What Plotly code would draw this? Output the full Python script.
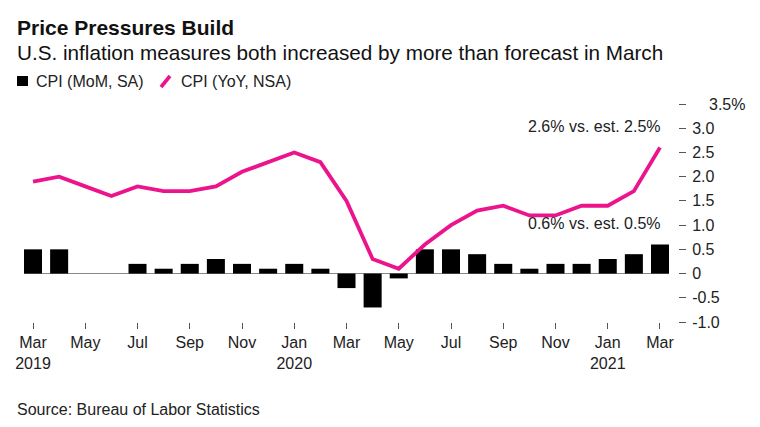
import plotly.graph_objects as go

months = ["2019-03", "2019-04", "2019-05", "2019-06", "2019-07", "2019-08", "2019-09",
          "2019-10", "2019-11", "2019-12", "2020-01", "2020-02", "2020-03", "2020-04",
          "2020-05", "2020-06", "2020-07", "2020-08", "2020-09", "2020-10", "2020-11",
          "2020-12", "2021-01", "2021-02", "2021-03"]
cpi_mom = [0.5, 0.5, 0.0, 0.0, 0.2, 0.1, 0.2, 0.3, 0.2, 0.1, 0.2, 0.1, -0.3, -0.7,
           -0.1, 0.5, 0.5, 0.4, 0.2, 0.1, 0.2, 0.2, 0.3, 0.4, 0.6]
cpi_yoy = [1.9, 2.0, 1.8, 1.6, 1.8, 1.7, 1.7, 1.8, 2.1, 2.3, 2.5, 2.3, 1.5, 0.3,
           0.1, 0.6, 1.0, 1.3, 1.4, 1.2, 1.2, 1.4, 1.4, 1.7, 2.6]
x_tickvals = ["2019-03", "2019-05", "2019-07", "2019-09", "2019-11", "2020-01", "2020-03",
              "2020-05", "2020-07", "2020-09", "2020-11", "2021-01", "2021-03"]
x_ticktext = ["Mar<br>2019", "May", "Jul", "Sep", "Nov", "Jan<br>2020", "Mar",
              "May", "Jul", "Sep", "Nov", "Jan<br>2021", "Mar"]
y_tickvals = [-1.0, -0.5, 0, 0.5, 1.0, 1.5, 2.0, 2.5, 3.0, 3.5]
y_ticktext = ["-1.0", "-0.5", "0", "0.5", "1.0", "1.5", "2.0", "2.5", "3.0", ""]

PINK = "#EC148C"
FONT = "Liberation Sans, Arial, sans-serif"

W, H = 760, 427
ML, MR, MT, MB = 24, 60, 104, 105
PW = W - ML - MR
PH = H - MT - MB


def px(xp):
    return (xp - ML) / PW


def py(yp):
    return (H - MB - yp) / PH


fig = go.Figure()
fig.add_trace(go.Bar(x=months, y=cpi_mom, marker=dict(color="black", line=dict(width=0)),
                     name="CPI (MoM, SA)", showlegend=False))
fig.add_trace(go.Scatter(x=months, y=cpi_yoy, mode="lines", line=dict(color=PINK, width=3.8),
                         name="CPI (YoY, NSA)", showlegend=False))

fig.update_layout(
    width=W, height=H,
    margin=dict(l=ML, r=MR, t=MT, b=MB),
    paper_bgcolor="white", plot_bgcolor="white",
    font=dict(family=FONT, size=16, color="#222"),
    bargap=0.31,
    xaxis=dict(type="category", domain=[0, px(669)], range=[-0.345, 24.345],
               tickmode="array", tickvals=x_tickvals, ticktext=x_ticktext,
               ticks="outside", ticklen=6, tickwidth=1, tickcolor="#555",
               showgrid=False, showline=False, zeroline=False,
               tickfont=dict(size=16, color="#222")),
    yaxis=dict(range=[-1.0, 3.5], anchor="free", position=px(678), side="right",
               tickmode="array", tickvals=y_tickvals, ticktext=y_ticktext,
               ticks="outside", ticklen=7, tickwidth=1, tickcolor="#555",
               ticklabelstandoff=3,
               showgrid=False, showline=False, zeroline=True,
               zerolinecolor="#888", zerolinewidth=1,
               tickfont=dict(size=16, color="#222")),
)

annotations = [
    dict(text="<b>Price Pressures Build</b>", x=px(15), y=py(27), font=dict(size=21, color="#111")),
    dict(text="U.S. inflation measures both increased by more than forecast in March",
         x=px(15), y=py(52), font=dict(size=20.7, color="#111")),
    dict(text="CPI (MoM, SA)", x=px(34), y=py(81), font=dict(size=16, color="#222")),
    dict(text="CPI (YoY, NSA)", x=px(179), y=py(81), font=dict(size=16, color="#222")),
    dict(text="Source: Bureau of Labor Statistics", x=px(15), y=py(409), font=dict(size=16, color="#222")),
    dict(text="3.5%", x=px(707), y=3.5, yref="y", font=dict(size=16, color="#222")),
]
for a in annotations:
    a.setdefault("xref", "paper")
    a.setdefault("yref", "paper")
    a.update(xanchor="left", yanchor="middle", showarrow=False)
    fig.add_annotation(**a)

fig.add_annotation(text="2.6% vs. est. 2.5%", x=months[-1], y=3.03, xref="x", yref="y",
                   xanchor="right", yanchor="middle", showarrow=False, xshift=3,
                   font=dict(size=16, color="#222"))
fig.add_annotation(text="0.6% vs. est. 0.5%", x=months[-1], y=1.03, xref="x", yref="y",
                   xanchor="right", yanchor="middle", showarrow=False, xshift=3,
                   font=dict(size=16, color="#222"))

# legend symbols
fig.add_shape(type="rect", xref="paper", yref="paper", x0=px(17), x1=px(28), y0=py(86), y1=py(76),
              fillcolor="black", line=dict(width=0))
fig.add_shape(type="line", xref="paper", yref="paper", x0=px(161), x1=px(170), y0=py(87), y1=py(76),
              line=dict(color=PINK, width=3.6))

fig.write_html("out.html", config={"displayModeBar": False},
               post_script="document.body.style.margin='0';document.body.style.overflow='hidden';")
